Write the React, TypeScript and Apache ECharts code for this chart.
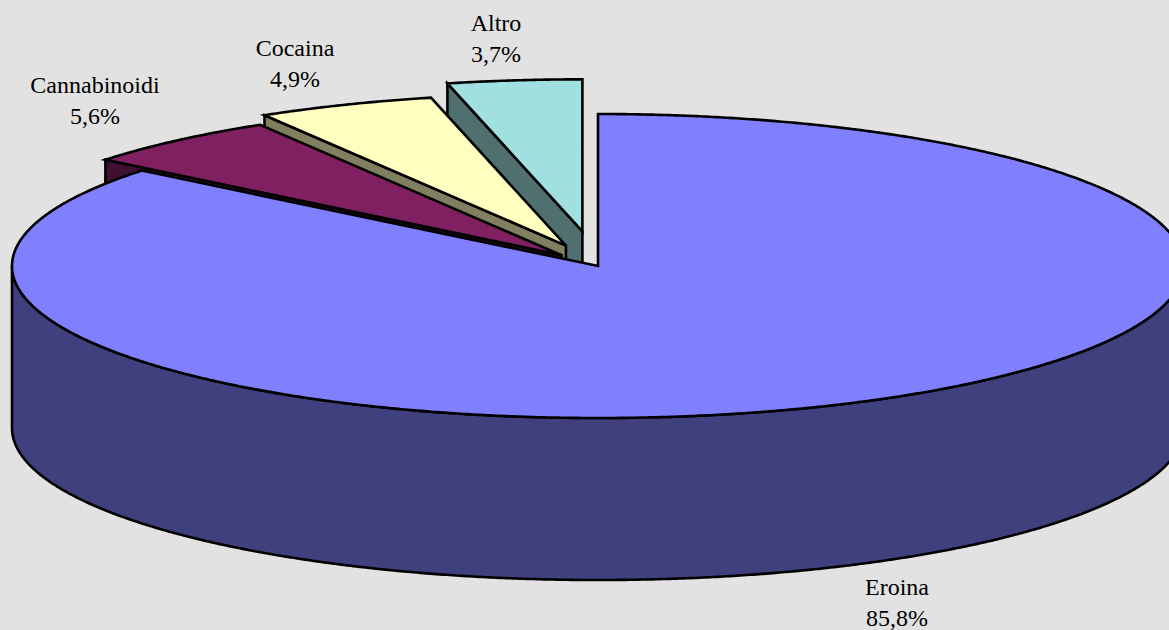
import React, { useEffect, useRef } from "react";
import * as echarts from "echarts";

const categories = ["Eroina", "Cannabinoidi", "Cocaina", "Altro"];
const values = [85.8, 5.6, 4.9, 3.7];
const topColors = ["#8080FF", "#802060", "#FFFFC0", "#A0E0E0"];
const sideColors = ["#40407F", "#401030", "#808060", "#507070"];
const explodeDistance = [0, 38, 38, 38];
const labelCenters = [
  [897, 602],
  [95, 100],
  [295, 63],
  [496, 38],
];

const CX = 598;
const CY = 266;
const RX = 586;
const RY = 152;
const DEPTH = 162;
const STROKE = { stroke: "#000", lineWidth: 2.6, lineJoin: "miter" as const };

const total = values.reduce((a, b) => a + b, 0);
const rad = (d: number) => (d * Math.PI) / 180;

function sliceGeometry(i: number) {
  const before = values.slice(0, i).reduce((a, b) => a + b, 0);
  const start = (before / total) * 360;
  const end = ((before + values[i]) / total) * 360;
  const mid = rad((start + end) / 2);
  const dx = RX * Math.sin(mid);
  const dy = -RY * Math.cos(mid);
  const len = Math.hypot(dx, dy) || 1;
  const ax = CX + (dx / len) * explodeDistance[i];
  const ay = CY + (dy / len) * explodeDistance[i];
  return { start, end, ax, ay };
}

function arcPoints(ax: number, ay: number, from: number, to: number, yShift = 0) {
  const pts: number[][] = [];
  const n = Math.max(2, Math.ceil(Math.abs(to - from) * 3));
  for (let k = 0; k <= n; k++) {
    const t = rad(from + ((to - from) * k) / n);
    pts.push([ax + RX * Math.sin(t), ay - RY * Math.cos(t) + yShift]);
  }
  return pts;
}

function renderSlice(params: any) {
  const i = categories.length - 1 - params.dataIndex;
  const { start, end, ax, ay } = sliceGeometry(i);
  const children: any[] = [];
  const side = sideColors[i];

  const s = arcPoints(ax, ay, start, start)[0];
  if (i !== 0) {
    children.push({
      type: "polygon",
      shape: { points: [s, [ax, ay], [ax, ay + DEPTH], [s[0], s[1] + DEPTH]] },
      style: { fill: side, ...STROKE },
    });
  }

  const wallFrom = Math.max(start, 90);
  const wallTo = Math.min(end, 270);
  if (wallTo > wallFrom) {
    const upper = arcPoints(ax, ay, wallFrom, wallTo);
    const lower = arcPoints(ax, ay, wallFrom, wallTo, DEPTH).reverse();
    children.push({
      type: "polygon",
      shape: { points: [...upper, ...lower] },
      style: { fill: side, ...STROKE },
    });
  }

  children.push({
    type: "polygon",
    shape: { points: [[ax, ay], ...arcPoints(ax, ay, start, end)] },
    style: { fill: topColors[i], ...STROKE },
  });

  return { type: "group", children };
}

function labelElements() {
  return categories.map((name, i) => ({
    type: "text",
    x: labelCenters[i][0],
    y: labelCenters[i][1],
    style: {
      text: `${name}\n${values[i].toFixed(1).replace(".", ",")}%`,
      fontFamily: "Liberation Serif",
      fontSize: 24,
      lineHeight: 31,
      fill: "#000",
      align: "center",
      verticalAlign: "middle",
    },
  }));
}

export default function App() {
  const ref = useRef<HTMLDivElement>(null);
  useEffect(() => {
    const chart = echarts.init(ref.current!, undefined, { renderer: "svg" });
    chart.setOption({
      animation: false,
      backgroundColor: "#E2E2E2",
      graphic: { elements: labelElements() },
      series: [
        {
          type: "custom",
          coordinateSystem: "none",
          renderItem: renderSlice,
          data: [...values].reverse(),
          silent: true,
        },
      ],
    });
    return () => chart.dispose();
  }, []);
  return (
    <div
      ref={ref}
      style={{ position: "absolute", left: 0, top: 0, width: 1169, height: 630, overflow: "hidden" }}
    />
  );
}
